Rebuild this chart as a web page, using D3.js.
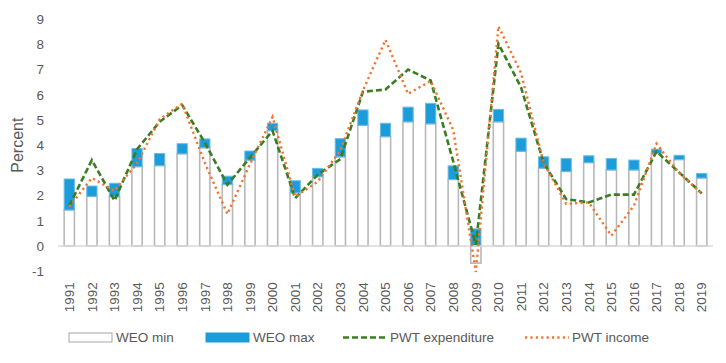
<!DOCTYPE html>
<html>
<head>
<meta charset="utf-8">
<script src="https://cdn.jsdelivr.net/npm/d3@7"></script>
<style>
  html, body { margin: 0; padding: 0; background: #ffffff; }
  svg { display: block; }
  text { font-family: "Liberation Sans", Arial, sans-serif; fill: #595959; }
</style>
</head>
<body>
<svg id="chart" width="726" height="363"></svg>
<script>
// ---- data ----
const years = [1991,1992,1993,1994,1995,1996,1997,1998,1999,2000,2001,2002,2003,2004,2005,2006,2007,2008,2009,2010,2011,2012,2013,2014,2015,2016,2017,2018,2019];
const weoMin   = [1.43,1.97,1.96,3.15,3.19,3.66,3.90,2.44,3.41,4.58,2.11,2.75,3.54,4.79,4.34,4.93,4.85,2.64,-0.68,4.93,3.76,3.09,2.96,3.31,3.02,3.02,3.67,3.43,2.70];
const weoMax   = [1.23,0.41,0.53,0.72,0.48,0.40,0.35,0.33,0.36,0.29,0.48,0.33,0.72,0.61,0.53,0.58,0.81,0.54,0.68,0.49,0.52,0.45,0.51,0.27,0.45,0.39,0.17,0.17,0.18]; // stacked segment above WEO min
const pwtExpenditure = [1.60,3.41,1.80,3.84,4.93,5.59,4.10,2.43,3.51,4.57,1.90,2.83,3.45,6.12,6.21,7.00,6.57,3.35,0.05,8.02,6.30,3.30,1.86,1.73,2.04,2.04,3.75,2.92,2.09];
const pwtIncome      = [1.56,2.70,2.19,3.28,5.03,5.65,3.30,1.27,3.25,5.12,1.96,2.55,3.80,6.17,8.18,6.04,6.55,4.60,-1.03,8.72,6.87,3.30,1.67,1.73,0.41,1.60,4.06,2.90,2.08];
const yTicks = [-1,0,1,2,3,4,5,6,7,8,9];
const seriesNames = ["WEO min","WEO max","PWT expenditure","PWT income"];

// ---- layout ----
const svg = d3.select("#chart");
const grey = "#595959";
const colors = { min: "#ffffff", minStroke: "#b8b8b8", max: "#1c9cd9", maxStroke: "#6cbce6", exp: "#3a7d22", inc: "#ef7531" };

const x = d3.scaleBand().domain(years).range([58, 713]).paddingInner(0).paddingOuter(0);
const y = d3.scaleLinear().domain([-1, 9]).range([271.2, 19.2]);
const barW = x.bandwidth() * 0.455;

// y axis
const yAxis = svg.append("g").attr("transform", "translate(58,0)")
  .call(d3.axisLeft(y).tickValues(yTicks).tickSize(0).tickPadding(14).tickFormat(d => String(d)));
yAxis.select(".domain").remove();
yAxis.selectAll("text").attr("font-size", 13.5).attr("font-family", "Liberation Sans, Arial, sans-serif").attr("fill", grey);

// y title
svg.append("text")
  .attr("transform", `translate(23,${(y(9) + y(-1)) / 2}) rotate(-90)`)
  .attr("text-anchor", "middle")
  .attr("font-size", 16)
  .text("Percent");

// x axis labels at bottom
const xAxis = svg.append("g").attr("transform", `translate(0,${y(-1)})`)
  .call(d3.axisBottom(x).tickSize(0).tickFormat(d => String(d)));
xAxis.select(".domain").remove();
xAxis.selectAll("text")
  .attr("font-size", 13.5).attr("font-family", "Liberation Sans, Arial, sans-serif").attr("fill", grey)
  .attr("transform", "rotate(-90)")
  .attr("text-anchor", "end")
  .attr("x", -11).attr("y", 0).attr("dy", "0.35em");

// bars (stacked, diverging)
const rows = years.map((yr, i) => ({ year: yr, min: weoMin[i], max: weoMax[i] }));
const stack = d3.stack().keys(["min", "max"]).offset(d3.stackOffsetDiverging)(rows);
const fills = { min: colors.min, max: colors.max };
const strokes = { min: colors.minStroke, max: colors.maxStroke };
stack.forEach(layer => {
  svg.append("g").selectAll("rect").data(layer).join("rect")
    .attr("x", d => x(d.data.year) + (x.bandwidth() - barW) / 2)
    .attr("width", barW)
    .attr("y", d => y(Math.max(d[0], d[1])))
    .attr("height", d => Math.abs(y(d[0]) - y(d[1])))
    .attr("fill", fills[layer.key])
    .attr("stroke", strokes[layer.key])
    .attr("stroke-width", layer.key === "min" ? 1.6 : 1);
});

// zero axis line
svg.append("line")
  .attr("x1", x.range()[0]).attr("x2", x.range()[1])
  .attr("y1", y(0)).attr("y2", y(0))
  .attr("stroke", "#d9d9d9").attr("stroke-width", 1.3);

// lines
const line = d3.line().x((d, i) => x(years[i]) + x.bandwidth() / 2).y(d => y(d));
svg.append("path").datum(pwtExpenditure)
  .attr("d", line).attr("fill", "none")
  .attr("stroke", colors.exp).attr("stroke-width", 2.6)
  .attr("stroke-dasharray", "6,3");
svg.append("path").datum(pwtIncome)
  .attr("d", line).attr("fill", "none")
  .attr("stroke", colors.inc).attr("stroke-width", 2.4)
  .attr("stroke-dasharray", "2.2,3.2");

// legend
const legY = 337.5;
const leg = svg.append("g");
const items = [
  { name: seriesNames[0], x0: 69, type: "box", fill: colors.min, stroke: "#a6a6a6" },
  { name: seriesNames[1], x0: 206, type: "box", fill: colors.max, stroke: colors.max },
  { name: seriesNames[2], x0: 343, type: "line", stroke: colors.exp, dash: "6,3", w: 2.6 },
  { name: seriesNames[3], x0: 525, type: "line", stroke: colors.inc, dash: "2.2,3.2", w: 2.4 }
];
items.forEach(it => {
  if (it.type === "box") {
    leg.append("rect").attr("x", it.x0).attr("y", legY - 4.5).attr("width", 43).attr("height", 9)
      .attr("fill", it.fill).attr("stroke", it.stroke).attr("stroke-width", 1);
  } else {
    leg.append("line").attr("x1", it.x0).attr("x2", it.x0 + 44).attr("y1", legY).attr("y2", legY)
      .attr("stroke", it.stroke).attr("stroke-width", it.w).attr("stroke-dasharray", it.dash);
  }
  leg.append("text").attr("x", it.x0 + 47).attr("y", legY).attr("dy", "0.36em")
    .attr("font-size", 13.5).text(it.name);
});
</script>
</body>
</html>
